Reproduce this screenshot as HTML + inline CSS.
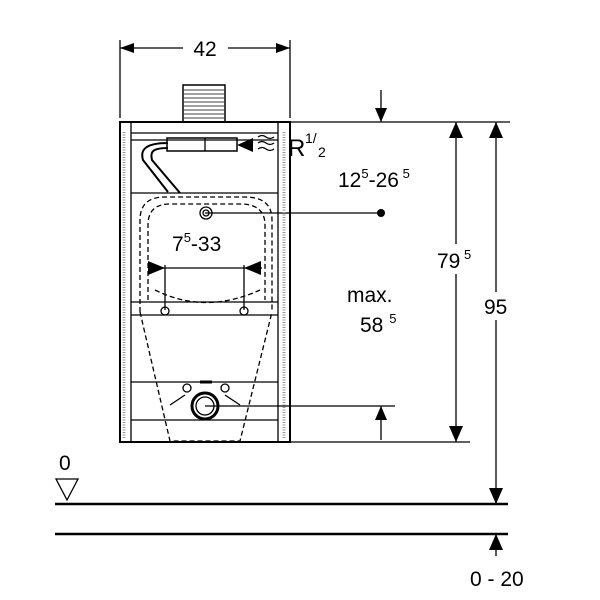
<!DOCTYPE html>
<html><head><style>body{margin:0;background:#fff}svg{display:block}text{font-family:"Liberation Sans",sans-serif;fill:#000}</style></head>
<body>
<svg width="600" height="600" viewBox="0 0 600 600" xmlns="http://www.w3.org/2000/svg">
<g stroke="#000" fill="none" stroke-width="1.3">
<line x1="120" y1="40" x2="120" y2="118"/><line x1="290" y1="40" x2="290" y2="118"/>
<line x1="120" y1="48" x2="183" y2="48"/><line x1="228" y1="48" x2="290" y2="48"/>
<line x1="290" y1="122" x2="510" y2="122"/>
<line x1="290" y1="442" x2="470" y2="442"/>
<line x1="456" y1="122" x2="456" y2="442"/>
<line x1="496" y1="122" x2="496" y2="504"/>
<line x1="381" y1="90" x2="381" y2="122"/>
<line x1="381" y1="406" x2="381" y2="440"/>
<line x1="205" y1="406" x2="395" y2="406"/>
<line x1="205" y1="213" x2="381" y2="213"/>
<line x1="496" y1="534" x2="496" y2="556"/>
<line x1="55" y1="504" x2="508" y2="504" stroke-width="2.5"/>
<line x1="55" y1="534" x2="508" y2="534" stroke-width="2.5"/>
<path d="M56,479 L78,479 L67,500 Z"/>
<rect x="120" y="122" width="170" height="320" stroke-width="2"/>
<line x1="131" y1="122" x2="131" y2="442"/><line x1="278" y1="122" x2="278" y2="442"/>
<line x1="131" y1="133" x2="278" y2="133"/>
<line x1="131" y1="140" x2="278" y2="140"/>
<line x1="131" y1="193" x2="278" y2="193"/>
<line x1="131" y1="302" x2="278" y2="302"/><line x1="131" y1="315" x2="278" y2="315"/>
<line x1="131" y1="382" x2="278" y2="382"/>
<line x1="131" y1="420" x2="278" y2="420"/>
<line x1="124" y1="132" x2="124" y2="438" stroke="#999" stroke-width="3" stroke-dasharray="1 1.5"/>
<line x1="284" y1="132" x2="284" y2="438" stroke="#999" stroke-width="3" stroke-dasharray="1 1.5"/>
<rect x="183" y="85" width="42" height="37" stroke-width="1.5"/>
<g stroke-width="0.8"><line x1="184" y1="90" x2="224" y2="90"/><line x1="184" y1="94" x2="224" y2="94"/><line x1="184" y1="98" x2="224" y2="98"/><line x1="184" y1="102" x2="224" y2="102"/><line x1="184" y1="106" x2="224" y2="106"/><line x1="184" y1="110" x2="224" y2="110"/><line x1="184" y1="114" x2="224" y2="114"/><line x1="184" y1="118" x2="224" y2="118"/></g>
<rect x="167" y="138" width="70" height="13" stroke-width="1.5"/>
<line x1="205" y1="138" x2="205" y2="151"/>
<path d="M168,143 C145,143 140,150 143,160 L168,192 M168,148 C152,148 150,152 152,160 L180,193" stroke-width="2"/>
<path d="M258,137 q4,-3 8,0 t8,0 M258,143 q4,-3 8,0 t8,0 M258,149 q4,-3 8,0 t8,0"/>
<g stroke-dasharray="5 3">
<path d="M140,312 L140,220 Q140,197 165,197 L245,197 Q272,197 272,220 L272,312"/>
<path d="M148,300 L148,225 Q148,204 170,204 L240,204 Q265,204 265,225 L265,300"/>
<path d="M140,312 L170,441 L240,441 L272,312"/>
<path d="M155,290 Q205,315 260,290"/>
</g>
<line x1="165" y1="265" x2="165" y2="310"/><line x1="244" y1="265" x2="244" y2="310"/>
<circle cx="165" cy="311" r="4"/><circle cx="244" cy="311" r="4"/>
<line x1="148" y1="268" x2="262" y2="268"/>
<circle cx="206" cy="213" r="6"/><circle cx="206" cy="213" r="3"/>
<circle cx="205" cy="406" r="13" stroke-width="3"/><circle cx="205" cy="406" r="9"/>
<circle cx="187" cy="388" r="4"/><circle cx="225" cy="388" r="4"/>
<line x1="200" y1="382" x2="212" y2="382" stroke-width="3"/>
<path d="M170,405 L185,395 M240,405 L225,395"/>
</g>
<g fill="#000">
<path d="M120,48 l14,-5 v10 z M290,48 l-14,-5 v10 z"/>
<path d="M381,122 l-6,-14 h12 z M381,406 l-6,14 h12 z"/>
<path d="M456,122 l-7,16 h14 z M456,442 l-7,-16 h14 z"/>
<path d="M496,122 l-7,16 h14 z M496,504 l-7,-16 h14 z M496,534 l-7,16 h14 z"/>
<path d="M237,145 l16,-7 v14 z"/>
<path d="M165,268 l-17,-7 v14 z M244,268 l17,-7 v14 z"/>
<circle cx="381" cy="213" r="4"/>
</g>
<rect x="436" y="244" width="40" height="30" fill="#fff"/>
<rect x="482" y="292" width="30" height="28" fill="#fff"/>
<text x="205" y="56" font-size="21" text-anchor="middle">42</text>
<text x="288" y="156" font-size="24">R</text><text x="305" y="143" font-size="14">1/</text><text x="318" y="157" font-size="14">2</text>
<text x="338" y="187" font-size="21">12<tspan font-size="13" dy="-9">5</tspan><tspan dy="9">-26</tspan><tspan font-size="13" dy="-9"> 5</tspan></text>
<text x="172" y="251" font-size="21">7<tspan font-size="13" dy="-9">5</tspan><tspan dy="9">-33</tspan></text>
<text x="437" y="268" font-size="21">79<tspan font-size="13" dy="-9"> 5</tspan></text>
<text x="347" y="302" font-size="21">max.</text>
<text x="360" y="332" font-size="21">58 <tspan font-size="13" dy="-9"> 5</tspan></text>
<text x="484" y="314" font-size="21">95</text>
<text x="59" y="470" font-size="21">0</text>
<text x="470" y="586" font-size="21">0 - 20</text>
</svg>
</body></html>
